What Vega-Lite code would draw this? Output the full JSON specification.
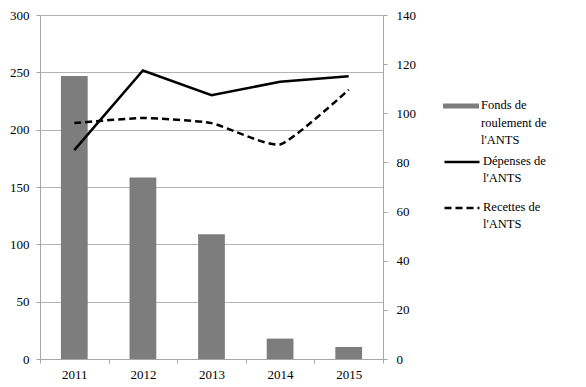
{
  "$schema": "https://vega.github.io/schema/vega-lite/v6.json",
  "width": 343,
  "height": 344,
  "autosize": "none",
  "padding": {"left": 40, "top": 15, "right": 203, "bottom": 28},
  "background": "white",
  "data": {
    "values": [
      {"annee": "2011", "fonds": 246.7, "depenses": 85.0, "recettes": 96.0},
      {"annee": "2012", "fonds": 158.2, "depenses": 117.4, "recettes": 98.1},
      {"annee": "2013", "fonds": 108.7, "depenses": 107.4, "recettes": 96.0},
      {"annee": "2014", "fonds": 17.8, "depenses": 112.8, "recettes": 87.3},
      {"annee": "2015", "fonds": 10.5, "depenses": 115.1, "recettes": 109.6}
    ]
  },
  "config": {
    "view": {"stroke": null},
    "axis": {
      "domainColor": "#a6a6a6",
      "tickColor": "#a6a6a6",
      "gridColor": "#b3b3b3",
      "tickSize": 4,
      "labelFont": "Liberation Serif",
      "labelFontSize": 13,
      "labelColor": "#000000",
      "title": null
    },
    "legend": {
      "labelFont": "Liberation Serif",
      "labelFontSize": 12.5,
      "labelColor": "#000000",
      "padding": 0,
      "labelOffset": 2,
      "labelLimit": 200,
      "labelBaseline": "top",
      "title": null,
      "orient": "none"
    }
  },
  "encoding": {
    "x": {
      "field": "annee",
      "type": "ordinal",
      "scale": {"paddingInner": 0, "paddingOuter": 0},
      "axis": {"labelAngle": 0, "tickBand": "extent", "labelPadding": 5, "domainColor": "#a6a6a6"}
    }
  },
  "layer": [
    {
      "mark": {"type": "bar", "width": {"band": 0.39}},
      "encoding": {
        "y": {
          "field": "fonds",
          "type": "quantitative",
          "scale": {"domain": [0, 300], "nice": false},
          "axis": {"values": [0, 50, 100, 150, 200, 250, 300], "grid": true, "labelPadding": 7, "gridColor": "#b3b3b3"}
        },
        "fill": {
          "datum": "Fonds de|roulement de|l'ANTS",
          "scale": {"range": ["#7d7d7d"]},
          "legend": {
            "legendX": 403,
            "legendY": 73,
            "symbolType": "M-1,-0.14H1V0.14H-1Z",
            "symbolSize": 1296,
            "symbolStrokeWidth": 0,
            "labelExpr": "split(datum.label, '|')",
            "encode": {"labels": {"update": {"dy": {"value": -7}, "lineHeight": {"value": 17.5}}}}
          }
        }
      }
    },
    {
      "layer": [
        {
          "mark": {"type": "line", "strokeWidth": 2.5},
          "encoding": {
            "y": {
              "field": "depenses",
              "type": "quantitative",
              "scale": {"domain": [0, 140], "nice": false},
              "axis": {"orient": "right", "values": [0, 20, 40, 60, 80, 100, 120, 140], "grid": false, "labelPadding": 9}
            },
            "stroke": {
              "datum": "Dépenses de|l'ANTS",
              "scale": {"range": ["#000000"]},
              "legend": {
                "legendX": 403,
                "legendY": 128,
                "symbolType": "stroke",
                "symbolSize": 1225,
                "symbolStrokeWidth": 2.5,
                "labelExpr": "split(datum.label, '|')",
                "encode": {"labels": {"update": {"dy": {"value": -7}, "lineHeight": {"value": 17}}}}
              }
            }
          }
        },
        {
          "mark": {"type": "line", "strokeWidth": 2.5, "color": "#000000", "interpolate": "cardinal", "tension": 0.5},
          "encoding": {
            "y": {"field": "recettes", "type": "quantitative"},
            "strokeDash": {
              "datum": "Recettes de|l'ANTS",
              "scale": {"range": [[7, 4]]},
              "legend": {
                "legendX": 403,
                "legendY": 174,
                "symbolType": "stroke",
                "symbolSize": 1225,
                "symbolStrokeWidth": 2.5,
                "symbolStrokeColor": "#000000",
                "labelExpr": "split(datum.label, '|')",
                "encode": {"labels": {"update": {"dy": {"value": -7}, "lineHeight": {"value": 17}}}}
              }
            }
          }
        }
      ]
    }
  ],
  "resolve": {"scale": {"y": "independent"}}
}
